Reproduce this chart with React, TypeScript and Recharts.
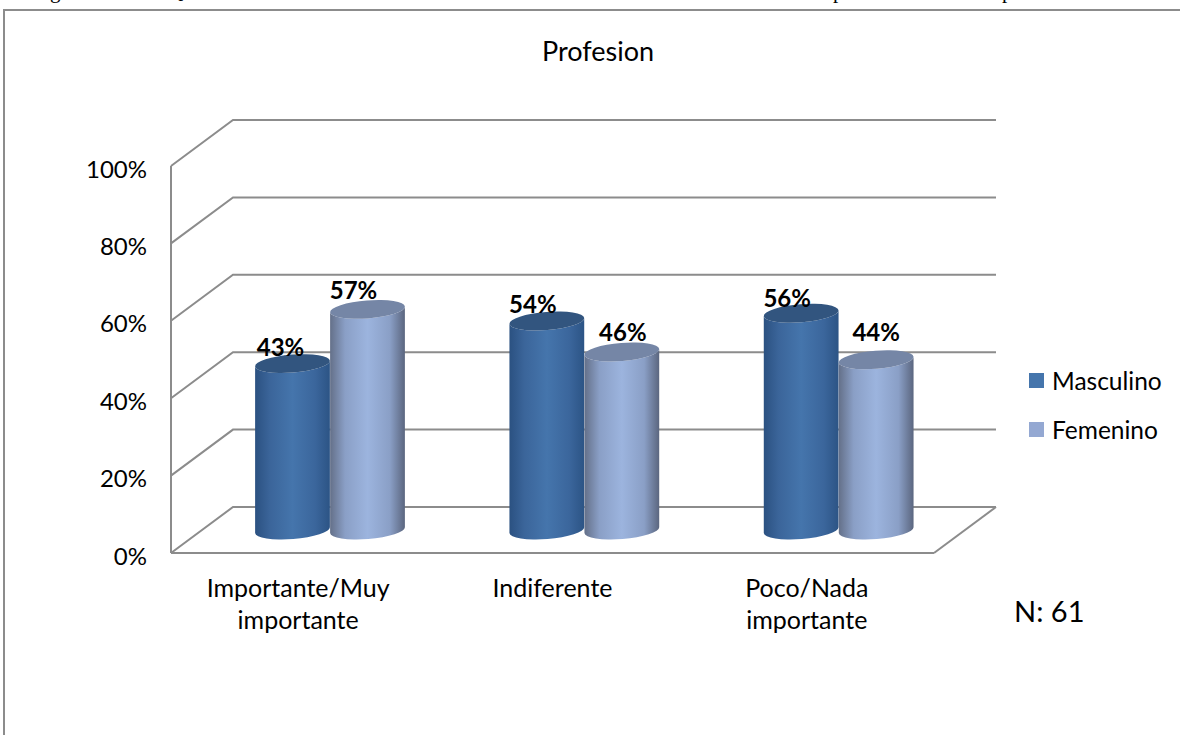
import React from 'react'
import { BarChart, Bar, XAxis, YAxis, CartesianGrid, Legend, LabelList } from 'recharts'

const categories = ['Importante/Muy importante', 'Indiferente', 'Poco/Nada importante']
const masculino = [43, 54, 56]
const femenino = [57, 46, 44]
const yTicks = [0, 20, 40, 60, 80, 100]

const data = categories.map((name, i) => ({ name, Masculino: masculino[i], Femenino: femenino[i] }))

const FONT = 'Lato, sans-serif'
const GRID = '#8c8c8c'
// depth of the fake 3d box
const DEPTH_X = 62
const DEPTH_Y = 46
const BAR_DX = 32
const TILT = 4.5
const RY = 9

// hand placed data labels in the original, [dx, dy] from the top of each bar
const labelNudgeM = [[-11, -8], [-13, -8], [-13, -6]]
const labelNudgeF = [[-13, -10], [2, -11], [1, -19]]

// bottoms of the caption line above the chart, cut off in the original
const cutCaption = [['g', 50], ['Q', 168], ['p', 833], ['p', 1002]]

const GridLine = ({ x1, y1, x2, index }: any) => (
  <g key={index}>
    <polyline
      points={`${x1},${y1} ${x1 + DEPTH_X},${y1 - DEPTH_Y} ${x2 + DEPTH_X},${y1 - DEPTH_Y}`}
      fill="none"
      stroke={GRID}
      strokeWidth={2}
    />
    {y1 > 540 ? <line x1={x2} y1={y1} x2={x2 + DEPTH_X} y2={y1 - DEPTH_Y} stroke={GRID} strokeWidth={2} /> : null}
  </g>
)

const Cylinder = ({ x, y, width, height, gradient, top }: any) => {
  const cx = x + width / 2 + BAR_DX
  const rx = width / 2
  const yTop = y - DEPTH_Y / 2
  const yBase = yTop + height
  const rad = (TILT * Math.PI) / 180
  const dx = rx * Math.cos(rad)
  const dy = rx * Math.sin(rad)
  const d =
    `M${cx - dx},${yTop + dy} L${cx - dx},${yBase + dy} ` +
    `A${rx},${RY} ${-TILT} 0 0 ${cx + dx},${yBase - dy} ` +
    `L${cx + dx},${yTop - dy} A${rx},${RY} ${-TILT} 0 1 ${cx - dx},${yTop + dy} Z`
  return (
    <g>
      <path d={d} fill={`url(#${gradient})`} />
      <ellipse cx={cx} cy={yTop} rx={rx} ry={RY} fill={top} transform={`rotate(${-TILT} ${cx} ${yTop})`} />
    </g>
  )
}

const PctLabel = ({ x, y, width, value, index, nudge }: any) => (
  <text
    x={x + width / 2 + DEPTH_X / 2 + nudge[index][0]}
    y={y - DEPTH_Y / 2 + nudge[index][1]}
    textAnchor="middle"
    fontFamily={FONT}
    fontWeight={700}
    fontSize={24}
    fill="#000"
  >
    {value}%
  </text>
)

const CategoryTick = ({ x, y, payload }: any) => {
  const lines = String(payload.value).split(' ')
  return (
    <text x={x} y={y + 36} textAnchor="middle" fontFamily={FONT} fontSize={25} fill="#000">
      {lines.map((l, i) => (
        <tspan key={i} x={x} dy={i === 0 ? 0 : 32}>
          {l}
        </tspan>
      ))}
    </text>
  )
}

const LegendBox = ({ payload }: any) => (
  <div style={{ fontFamily: FONT, fontSize: 24.5, color: '#000' }}>
    {payload.map((p: any) => (
      <div key={p.value} style={{ display: 'flex', alignItems: 'center', height: 49 }}>
        <span style={{ width: 15, height: 15, background: p.color, marginRight: 8, display: 'inline-block' }} />
        {p.value}
      </div>
    ))}
  </div>
)

export default function App() {
  return (
    <div style={{ position: 'fixed', left: 0, top: 0, width: 1180, height: 735, overflow: 'hidden', background: '#fff' }}>
      {cutCaption.map(([c, x]) => (
        <div
          key={x}
          style={{ position: 'absolute', left: x as number, top: -21, lineHeight: '24px', fontFamily: '"Liberation Serif", serif', fontSize: 21, color: '#000' }}
        >
          {c}
        </div>
      ))}
      <div style={{ position: 'absolute', left: 3, top: 9, width: 1300, height: 900, border: `2px solid ${GRID}` }} />
      <div style={{ position: 'absolute', left: 0, width: 1196, top: 34, textAlign: 'center', fontFamily: FONT, fontSize: 27, color: '#000' }}>
        Profesion
      </div>
      <div style={{ position: 'absolute', left: 1014, top: 593, fontFamily: FONT, fontSize: 29, color: '#000' }}>N: 61</div>
      <BarChart
        width={1180}
        height={735}
        data={data}
        margin={{ top: 166, left: 170, right: 246, bottom: 181 }}
        barSize={75}
        barGap={0}
        style={{ position: 'absolute', left: 0, top: 0 }}
      >
        <defs>
          <linearGradient id="gradM" x1="0" y1="0" x2="1" y2="0">
            <stop offset="0" stopColor="#2b5181" />
            <stop offset="0.2" stopColor="#3b659a" />
            <stop offset="0.5" stopColor="#4575ac" />
            <stop offset="0.8" stopColor="#3b669c" />
            <stop offset="1" stopColor="#2c5485" />
          </linearGradient>
          <linearGradient id="gradF" x1="0" y1="0" x2="1" y2="0">
            <stop offset="0" stopColor="#647089" />
            <stop offset="0.2" stopColor="#8a9fc6" />
            <stop offset="0.5" stopColor="#9cb4de" />
            <stop offset="0.8" stopColor="#8a9fc6" />
            <stop offset="1" stopColor="#5b667f" />
          </linearGradient>
        </defs>
        <CartesianGrid vertical={false} horizontal={(props: any) => <GridLine {...props} key={props.index} />} />
        <XAxis
          dataKey="name"
          height={1}
          interval={0}
          tick={<CategoryTick />}
          tickLine={false}
          axisLine={{ stroke: GRID, strokeWidth: 2 }}
        />
        <YAxis
          width={1}
          domain={[0, 100]}
          ticks={yTicks}
          tickFormatter={(v: number) => `${v}%`}
          tickLine={false}
          tickMargin={18}
          axisLine={{ stroke: GRID, strokeWidth: 2 }}
          tick={{ fontFamily: FONT, fontSize: 24, fill: '#000', dy: 3 }}
        />
        <Legend
          content={<LegendBox />}
          layout="vertical"
          align="center"
          verticalAlign="middle"
          itemSorter={null}
          wrapperStyle={{ position: 'absolute', left: 1029, top: 356, width: 150, bottom: 'auto', right: 'auto' }}
        />
        <Bar
          dataKey="Masculino"
          fill="#4575ac"
          isAnimationActive={false}
          shape={(p: any) => <Cylinder {...p} gradient="gradM" top="#32557f" />}
        >
          <LabelList dataKey="Masculino" content={(p: any) => <PctLabel {...p} nudge={labelNudgeM} />} />
        </Bar>
        <Bar
          dataKey="Femenino"
          fill="#94a8d2"
          isAnimationActive={false}
          shape={(p: any) => <Cylinder {...p} gradient="gradF" top="#7586a6" />}
        >
          <LabelList dataKey="Femenino" content={(p: any) => <PctLabel {...p} nudge={labelNudgeF} />} />
        </Bar>
      </BarChart>
    </div>
  )
}
